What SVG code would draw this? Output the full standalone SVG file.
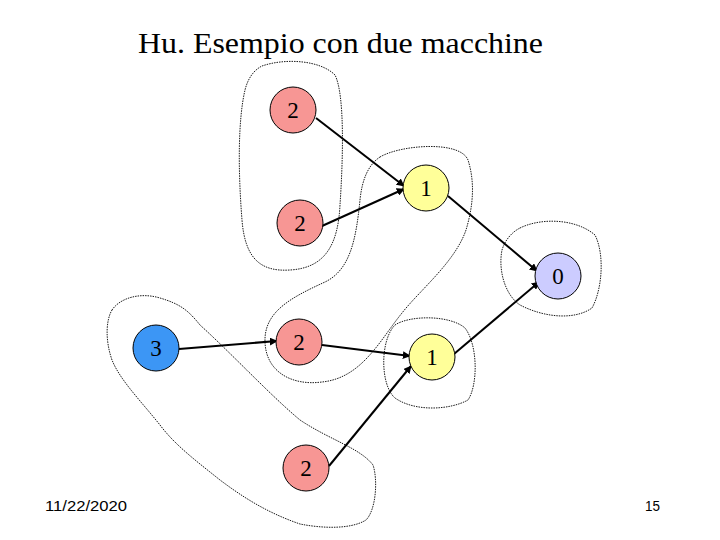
<svg xmlns="http://www.w3.org/2000/svg" width="720" height="540" viewBox="0 0 720 540">
<style>
.blob{fill:none;stroke:#000;stroke-width:0.9;stroke-dasharray:1.5 1}
.n circle{stroke:#000;stroke-width:1}
.n text{font-family:"Liberation Serif",serif;font-size:23px;text-anchor:middle;fill:#000}
.pink{fill:#F79694}
.yel{fill:#FFFF99}
.lav{fill:#CCCCFF}
.blue{fill:#3C96F5}
.e line{stroke:#000;stroke-width:2;marker-end:url(#ah)}
</style>
<defs>
<marker id="ah" viewBox="0 0 10 10" refX="9" refY="5" markerWidth="4" markerHeight="4" orient="auto" markerUnits="strokeWidth">
<path d="M0,0 L10,5 L0,10 Z" fill="#000"/>
</marker>
</defs>
<rect width="720" height="540" fill="#fff"/>
<text x="138" y="53" font-family="Liberation Serif,serif" font-size="30" textLength="405" lengthAdjust="spacingAndGlyphs">Hu. Esempio con due macchine</text>
<g id="outlines">
<path class="blob" d="M262,66 C285,58 320,60 335,75 C345,95 343,160 340,205 C338,245 325,268 290,270 C260,272 245,258 242,220 C238,170 238,120 245,90 C248,78 254,70 262,66 Z"/>
<path class="blob" d="M380,157 C400,145 460,140 468,160 C476,185 472,210 466,230 C455,262 420,290 402,313 C380,340 362,378 322,382 C292,386 266,372 265,342 C264,312 290,298 325,282 C350,270 356,240 360,200 C362,180 368,165 380,157 Z"/>
<path class="blob" d="M520,228 C540,218 575,218 595,235 C605,255 602,290 592,308 C575,320 545,318 520,305 C505,295 498,270 502,250 C505,240 512,232 520,228 Z"/>
<path class="blob" d="M395,325 C410,315 450,315 465,328 C478,345 478,385 468,400 C450,410 415,412 395,398 C380,385 380,340 395,325 Z"/>
<path class="blob" d="M112,310 C120,298 140,292 160,298 C180,304 188,310 200,325 C230,352 270,395 300,420 C330,440 360,448 373,465 C378,480 376,510 366,520 C350,530 320,528 300,524 C265,512 240,495 220,480 C195,460 175,445 160,425 C140,400 120,380 112,360 C105,340 106,320 112,310 Z"/>
</g>
<g id="connectors" class="e">
<line x1="316" y1="118" x2="404" y2="186"/>
<line x1="322" y1="226" x2="404" y2="189"/>
<line x1="448" y1="196" x2="537" y2="271"/>
<line x1="179" y1="349" x2="277" y2="341"/>
<line x1="322" y1="345" x2="410" y2="356"/>
<line x1="329" y1="466" x2="411" y2="366"/>
<line x1="454" y1="354" x2="539" y2="282"/>
</g>
<g id="n_top2" class="n"><circle class="pink" cx="293" cy="110" r="23"/><text x="293" y="118">2</text></g>
<g id="n_mid2a" class="n"><circle class="pink" cx="300" cy="223" r="23"/><text x="300" y="231">2</text></g>
<g id="n_1a" class="n"><circle class="yel" cx="426" cy="188" r="23"/><text x="426" y="196">1</text></g>
<g id="n_0" class="n"><circle class="lav" cx="558" cy="276" r="23"/><text x="558" y="284">0</text></g>
<g id="n_3" class="n"><circle class="blue" cx="156" cy="348" r="23"/><text x="156" y="356">3</text></g>
<g id="n_mid2b" class="n"><circle class="pink" cx="299" cy="342" r="23"/><text x="299" y="350">2</text></g>
<g id="n_1b" class="n"><circle class="yel" cx="432" cy="357" r="23"/><text x="432" y="365">1</text></g>
<g id="n_bot2" class="n"><circle class="pink" cx="306" cy="468" r="23"/><text x="306" y="476">2</text></g>
<text x="45" y="511" font-family="Liberation Sans,sans-serif" font-size="14" textLength="82" lengthAdjust="spacingAndGlyphs">11/22/2020</text>
<text x="645" y="511" font-family="Liberation Sans,sans-serif" font-size="14" textLength="15" lengthAdjust="spacingAndGlyphs">15</text>
</svg>
